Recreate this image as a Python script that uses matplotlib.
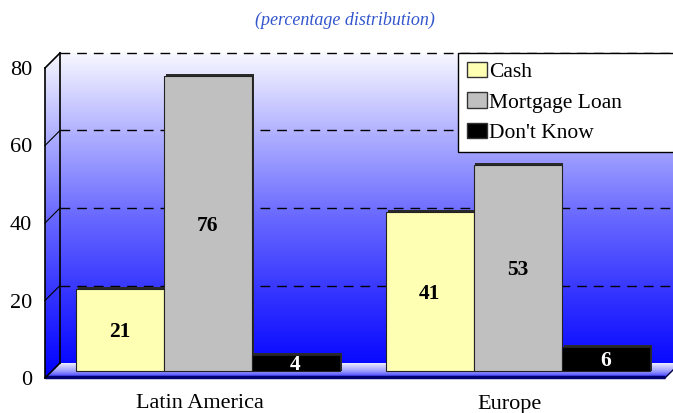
import matplotlib.pyplot as plt
import numpy as np
from matplotlib.colors import LinearSegmentedColormap
from matplotlib.patches import Polygon, Patch

plt.rcParams['font.family'] = ['Liberation Serif', 'DejaVu Serif']

# data
regions = ['Latin America', 'Europe']
series = ['Cash', 'Mortgage Loan', "Don't Know"]
cash = [21, 41]
mortgage = [76, 53]
dont_know = [4, 6]
bar_colors = ['#ffffb3', '#c0c0c0', '#000000']
label_colors = ['black', 'black', 'white']
yticks = [0, 20, 40, 60, 80]

W, H = 673, 413
fig = plt.figure(figsize=(W / 100, H / 100), dpi=100)
ax = fig.add_axes([0, 0, 1, 1])

# one x unit = one region slot, y in percent
sx = 1 / 310.0
sy = 1 / 3.875
ax.set_xlim(-200 * sx, 473 * sx)
ax.set_ylim(-35 * sy, 378 * sy)
ax.axis('off')

dx, dy = 15 * sx, 15 * sy      # depth of the fake 3d box
x0, x1 = -0.5, 1.5
ymax = 80
xr = x1 + dx + 0.2

# walls (side + back) with gradient
wall_cmap = LinearSegmentedColormap.from_list('wall', [
    (0.0, '#0000ff'), (0.25, '#3232ff'), (0.5, '#6a6aff'),
    (0.75, '#b0b0ff'), (1.0, '#f8f8ff')])
grad = np.linspace(0, 1, 256).reshape(-1, 1)
im = ax.imshow(grad, extent=[x0, xr, 0, ymax + dy], origin='lower',
               cmap=wall_cmap, aspect='auto', zorder=0)
wall = Polygon([(x0, 0), (x0 + dx, dy), (xr, dy), (xr, ymax + dy),
                (x0 + dx, ymax + dy), (x0, ymax)], closed=True,
               transform=ax.transData, facecolor='none', edgecolor='none')
ax.add_patch(wall)
im.set_clip_path(wall)

# floor
floor_cmap = LinearSegmentedColormap.from_list('floor', [
    (0.0, '#2a2aff'), (0.45, '#9a9aff'), (1.0, '#ececff')])
imf = ax.imshow(grad, extent=[x0, xr, 0, dy], origin='lower',
                cmap=floor_cmap, aspect='auto', zorder=0.5)
floor = Polygon([(x0, 0), (x1, 0), (x1 + dx, dy), (x0 + dx, dy)], closed=True,
                transform=ax.transData, facecolor='none', edgecolor='none')
ax.add_patch(floor)
imf.set_clip_path(floor)
ax.plot([x0, x1], [0.3, 0.3], color='#000070', lw=2.5, zorder=1,
        solid_capstyle='butt')

# gridlines
for v in yticks[1:]:
    ax.plot([x0 + dx, xr], [v + dy, v + dy], color='black', lw=1,
            dashes=(7, 5), zorder=1)
    if v < ymax:
        ax.plot([x0, x0 + dx], [v, v + dy], color='black', lw=0.8, zorder=1)

# frame
ax.plot([x0, x0], [0, ymax], color='black', lw=1.2, zorder=1)
ax.plot([x0 + dx, x0 + dx], [dy, ymax + dy], color='black', lw=1.2, zorder=1)
ax.plot([x0, x0 + dx], [ymax, ymax + dy], color='black', lw=1.2, zorder=1)
ax.plot([x0, x0 + dx], [0, dy], color='black', lw=1.2, zorder=1)
ax.plot([x1, x1 + dx], [0, dy], color='#000040', lw=1, zorder=1)

# bars
bw = 88 * sx
base = dy / 2
for i, (vals, col, lc) in enumerate(zip([cash, mortgage, dont_know],
                                        bar_colors, label_colors)):
    xs = np.arange(len(regions)) + (i - 1) * bw + dx / 2
    vals = np.array(vals)
    ax.bar(xs + 2 * sx, vals + 2 * sy, bw, bottom=base, color='#2a2a2a',
           zorder=2)
    ax.bar(xs, vals, bw, bottom=base, color=col, edgecolor='#222222',
           lw=0.8, zorder=3)
    for x, v in zip(xs, vals):
        ax.text(x, base + v / 2, str(v), ha='center', va='center_baseline',
                fontsize=15.5, fontweight='bold', color=lc, zorder=4)

# axis labels
for v in yticks:
    ax.text(x0 - 13 * sx, v, str(v), ha='right', va='center_baseline',
            fontsize=16)
for i, r in enumerate(regions):
    ax.text(i, -26 * sy, r, ha='center', va='center', fontsize=16)

# legend
handles = [Patch(facecolor=c, edgecolor='#333333', lw=1) for c in bar_colors]
leg = ax.legend(handles, series, loc='upper left',
                bbox_to_anchor=(458 / W, 0, 240 / W, 1 - 53 / H),
                bbox_transform=fig.transFigure, mode='expand',
                fontsize=15.5, frameon=True, fancybox=False, framealpha=1,
                borderaxespad=0, borderpad=0.4, labelspacing=0.5,
                handlelength=0.95, handleheight=0.7, handletextpad=0.1)
leg.get_frame().set_edgecolor('black')
leg.get_frame().set_linewidth(1)
leg.set_zorder(5)

# subtitle
fig.text(345 / W, 1 - 20 / H, '(percentage distribution)', ha='center',
         va='center', fontsize=13, style='italic', color='#3355cc')

fig.savefig('out.png', dpi=100)
